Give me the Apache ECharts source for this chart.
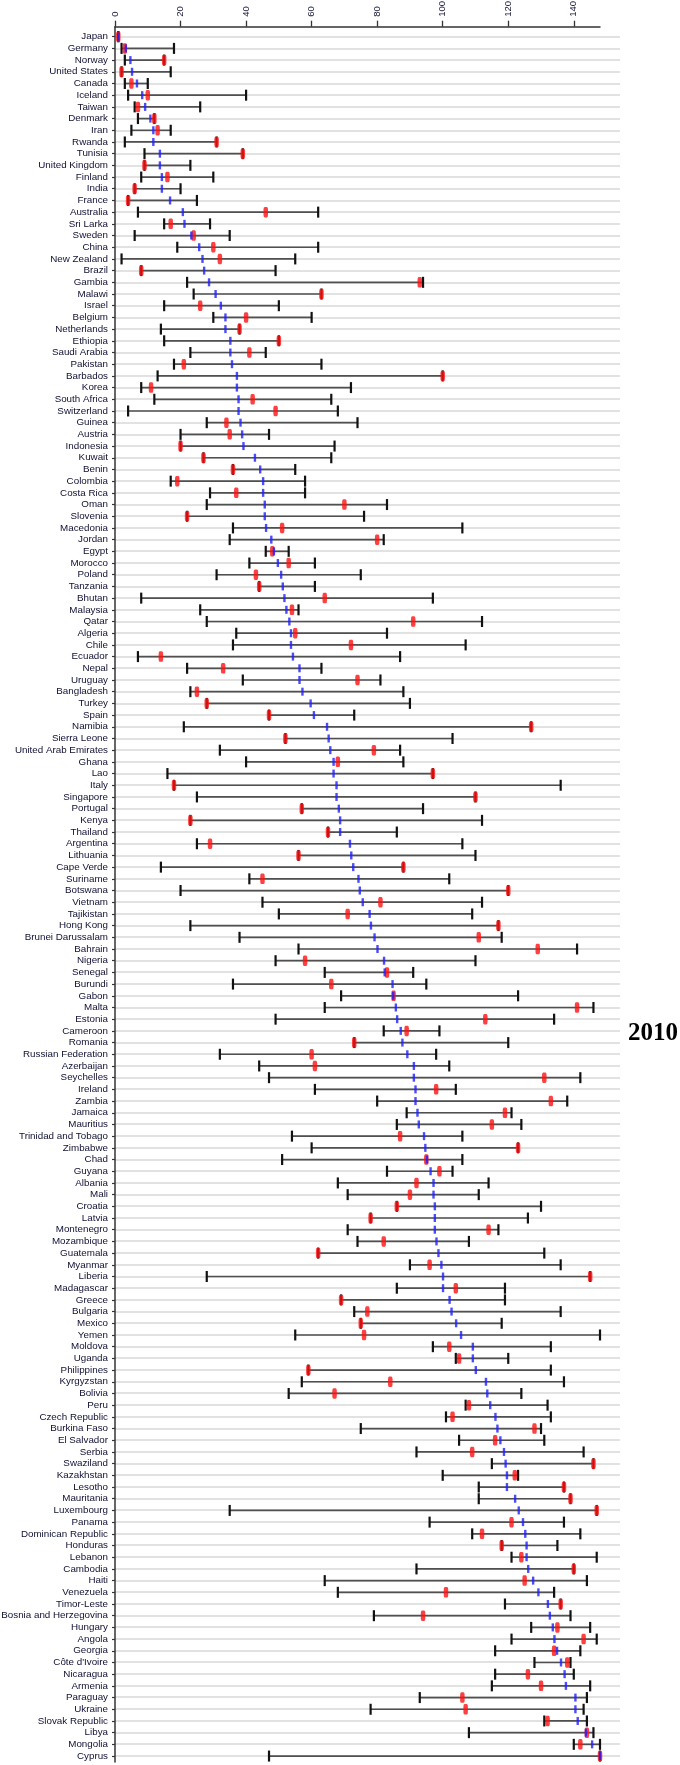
<!DOCTYPE html>
<html>
<head>
<meta charset="utf-8">
<script src="https://cdn.jsdelivr.net/npm/echarts@6/dist/echarts.min.js"></script>
<style>html,body{margin:0;padding:0;background:#fff}#c{width:680px;height:1765px}</style>
</head>
<body>
<div id="c"></div>
<script>
const countries = ["Japan","Germany","Norway","United States","Canada","Iceland","Taiwan","Denmark","Iran","Rwanda","Tunisia","United Kingdom","Finland","India","France","Australia","Sri Larka","Sweden","China","New Zealand","Brazil","Gambia","Malawi","Israel","Belgium","Netherlands","Ethiopia","Saudi Arabia","Pakistan","Barbados","Korea","South Africa","Switzerland","Guinea","Austria","Indonesia","Kuwait","Benin","Colombia","Costa Rica","Oman","Slovenia","Macedonia","Jordan","Egypt","Morocco","Poland","Tanzania","Bhutan","Malaysia","Qatar","Algeria","Chile","Ecuador","Nepal","Uruguay","Bangladesh","Turkey","Spain","Namibia","Sierra Leone","United Arab Emirates","Ghana","Lao","Italy","Singapore","Portugal","Kenya","Thailand","Argentina","Lithuania","Cape Verde","Suriname","Botswana","Vietnam","Tajikistan","Hong Kong","Brunei Darussalam","Bahrain","Nigeria","Senegal","Burundi","Gabon","Malta","Estonia","Cameroon","Romania","Russian Federation","Azerbaijan","Seychelles","Ireland","Zambia","Jamaica","Mauritius","Trinidad and Tobago","Zimbabwe","Chad","Guyana","Albania","Mali","Croatia","Latvia","Montenegro","Mozambique","Guatemala","Myanmar","Liberia","Madagascar","Greece","Bulgaria","Mexico","Yemen","Moldova","Uganda","Philippines","Kyrgyzstan","Bolivia","Peru","Czech Republic","Burkina Faso","El Salvador","Serbia","Swaziland","Kazakhstan","Lesotho","Mauritania","Luxembourg","Panama","Dominican Republic","Honduras","Lebanon","Cambodia","Haiti","Venezuela","Timor-Leste","Bosnia and Herzegovina","Hungary","Angola","Georgia","Côte d'Ivoire","Nicaragua","Armenia","Paraguay","Ukraine","Slovak Republic","Libya","Mongolia","Cyprus"];

const lower = [1,2,3,2,3,4,6,7,5,3,9,9,8,6,4,7,15,6,19,2,8,22,24,15,30,14,15,23,18,13,8,12,4,28,20,20,27,36,17,29,28,22,36,35,46,41,31,44,8,26,28,37,36,7,22,39,23,28,47,21,52,32,40,16,18,25,57,23,65,25,56,14,41,20,45,50,23,38,56,49,64,36,69,64,49,82,73,32,44,47,61,80,89,86,54,60,51,83,68,71,86,78,71,74,62,90,28,86,69,73,75,55,97,104,59,57,53,107,101,75,105,92,115,100,111,111,35,96,109,118,121,92,64,68,119,79,127,121,116,128,116,115,93,78,131,108,140,47];

const upper = [1,18,15,17,10,40,26,12,17,31,39,23,30,20,25,62,29,35,62,55,49,94,63,50,60,38,50,46,63,100,72,66,68,74,47,67,66,55,58,58,83,76,106,82,53,61,75,61,97,56,112,83,107,87,63,81,88,90,73,127,103,87,88,97,136,110,94,112,86,106,110,88,102,120,112,109,117,118,141,110,91,95,123,146,134,99,120,98,102,142,104,138,121,124,106,123,106,103,114,111,130,126,117,108,131,136,145,119,119,136,118,148,133,120,133,137,124,132,133,130,131,143,146,123,137,139,147,137,142,135,147,140,144,134,136,139,145,147,142,139,140,145,144,143,144,146,148,148];

const actual = [1,3,15,2,5,10,7,12,13,31,39,9,16,6,4,46,17,24,30,32,8,93,63,26,40,38,50,41,21,100,11,42,49,34,35,20,27,36,19,37,70,22,51,80,48,53,43,44,64,54,91,55,72,14,33,74,25,28,47,127,52,79,68,97,18,110,57,23,65,29,56,88,45,120,81,71,117,111,129,58,83,66,85,141,113,89,73,60,61,131,98,133,119,115,87,123,95,99,92,90,86,78,114,82,62,96,145,104,69,77,75,76,102,105,59,84,67,108,103,128,116,109,146,122,137,139,147,121,112,118,124,140,125,101,136,94,135,143,134,138,126,130,106,107,132,144,142,148];

const median = [1,3.3,4.7,5.2,6.7,8.3,9.2,10.8,11.7,11.7,13.7,13.7,14.3,14.3,16.8,20.7,21.2,23.3,25.7,26.7,27.2,28.7,30.7,32.3,33.7,33.7,35.2,35.2,35.7,37.2,37.2,37.7,37.7,38.3,38.8,39.2,42.7,44.3,45.2,45.2,45.7,45.7,46.1,47.7,48.5,49.7,50.7,51.2,51.7,52.3,53.2,53.7,53.7,54.3,56.3,56.3,57.2,59.7,60.7,64.7,65.2,65.7,66.7,66.7,67.6,67.6,68.3,68.7,68.7,71.7,72.1,72.7,74.3,74.7,75.6,77.7,78.1,79.2,80.1,82.1,82.3,84.7,84.9,85.7,86.1,87.2,87.7,89.2,91.2,91.2,91.7,91.7,92.3,92.7,94.3,94.7,95.2,96.3,97.2,97.2,97.6,97.6,97.6,98.1,98.7,99.6,100.1,100.1,102.1,102.7,104.1,105.6,109.2,109.2,110.1,113.2,113.6,114.5,116.1,116.7,117.6,118.7,119.2,119.6,119.6,122.1,123.2,124.5,125.2,125.6,125.6,126.1,127.6,129.2,132.1,132.7,133.6,134.1,134.9,136.1,137.2,137.6,140.5,140.5,141.2,143.7,145.6,148];

const xTicks = {min: 0, max: 148, interval: 20};
const yearLabel = "2010";

const chart = echarts.init(document.getElementById('c'), null, {renderer: 'canvas'});
const labelFont = '"Liberation Sans", Arial, sans-serif';

const option = {
  backgroundColor: '#fff',
  animation: false,
  grid: [
    {left: 115, right: 80, top: 30.85, bottom: 3.1, containLabel: false, outerBoundsMode: 'none'},
    {left: 115, right: 60, top: 36.7, bottom: 9.3, containLabel: false, outerBoundsMode: 'none'},
    {left: 115, width: 10, top: 26.7, bottom: 3.1, containLabel: false, outerBoundsMode: 'none'}
  ],
  xAxis: [
    {
      gridIndex: 0, type: 'value', position: 'top', offset: 4.15,
      min: xTicks.min, max: xTicks.max, interval: xTicks.interval,
      axisLine: {show: true, onZero: false, lineStyle: {color: '#333', width: 1.5}},
      axisTick: {show: true, length: 6, lineStyle: {color: '#333', width: 1.3}},
      axisLabel: {show: true, rotate: -90, margin: 10, fontSize: 9.5, color: '#14143a', fontFamily: labelFont, showMaxLabel: false},
      splitLine: {show: false}
    },
    {gridIndex: 1, type: 'value', min: 0, max: 1, show: false},
    {gridIndex: 2, type: 'value', min: 0, max: 1, show: false}
  ],
  yAxis: [
    {
      gridIndex: 0, type: 'category', inverse: true, data: countries, boundaryGap: true,
      axisLine: {show: false},
      axisTick: {show: true, alignWithLabel: true, length: 3, lineStyle: {color: '#333', width: 1.2}},
      axisLabel: {show: true, interval: 0, margin: 7, fontSize: 9.8, color: '#101035', fontFamily: labelFont, hideOverlap: false},
      splitLine: {show: false}
    },
    {
      gridIndex: 1, type: 'value', inverse: true, min: 0, max: countries.length - 1, interval: 1,
      axisLine: {show: false}, axisTick: {show: false}, axisLabel: {show: false},
      splitLine: {show: true, lineStyle: {color: '#e2e2e2', width: 2.2}}
    },
    {
      gridIndex: 2, type: 'value', min: 0, max: 1,
      axisLine: {show: true, onZero: false, lineStyle: {color: '#333', width: 1.5}},
      axisTick: {show: false}, axisLabel: {show: false}, splitLine: {show: false}
    }
  ],
  series: [
    {
      type: 'custom', xAxisIndex: 0, yAxisIndex: 0, z: 3,
      data: countries.map((c, i) => [i, lower[i], upper[i]]),
      encode: {x: [1, 2], y: 0},
      renderItem: function (params, api) {
        const yi = api.value(0);
        const a = api.coord([api.value(1), yi]);
        const b = api.coord([api.value(2), yi]);
        const h = 5.5;
        return {
          type: 'group',
          children: [
            {type: 'line', shape: {x1: a[0], y1: a[1], x2: b[0], y2: b[1]}, style: {stroke: '#505050', lineWidth: 1.7}},
            {type: 'line', shape: {x1: a[0], y1: a[1] - h, x2: a[0], y2: a[1] + h}, style: {stroke: '#111', lineWidth: 2.2}},
            {type: 'line', shape: {x1: b[0], y1: b[1] - h, x2: b[0], y2: b[1] + h}, style: {stroke: '#111', lineWidth: 2.2}}
          ]
        };
      }
    },
    {
      type: 'scatter', xAxisIndex: 0, yAxisIndex: 0, z: 4,
      symbol: 'roundRect', symbolSize: [4.5, 10.5],
      itemStyle: {color: '#ff1010'},
      data: actual.map((v, i) => [v, countries[i]])
    },
    {
      type: 'scatter', xAxisIndex: 0, yAxisIndex: 0, z: 5,
      symbol: 'rect', symbolSize: [2.4, 8],
      itemStyle: {color: '#1e1eff'},
      data: median.map((v, i) => [v, countries[i]])
    }
  ],
  graphic: [
    {
      type: 'text', left: 628, top: 1021,
      style: {text: yearLabel, font: 'bold 25px "Liberation Serif", "Times New Roman", serif', fill: '#000'}
    }
  ]
};
chart.setOption(option);
</script>
</body>
</html>
